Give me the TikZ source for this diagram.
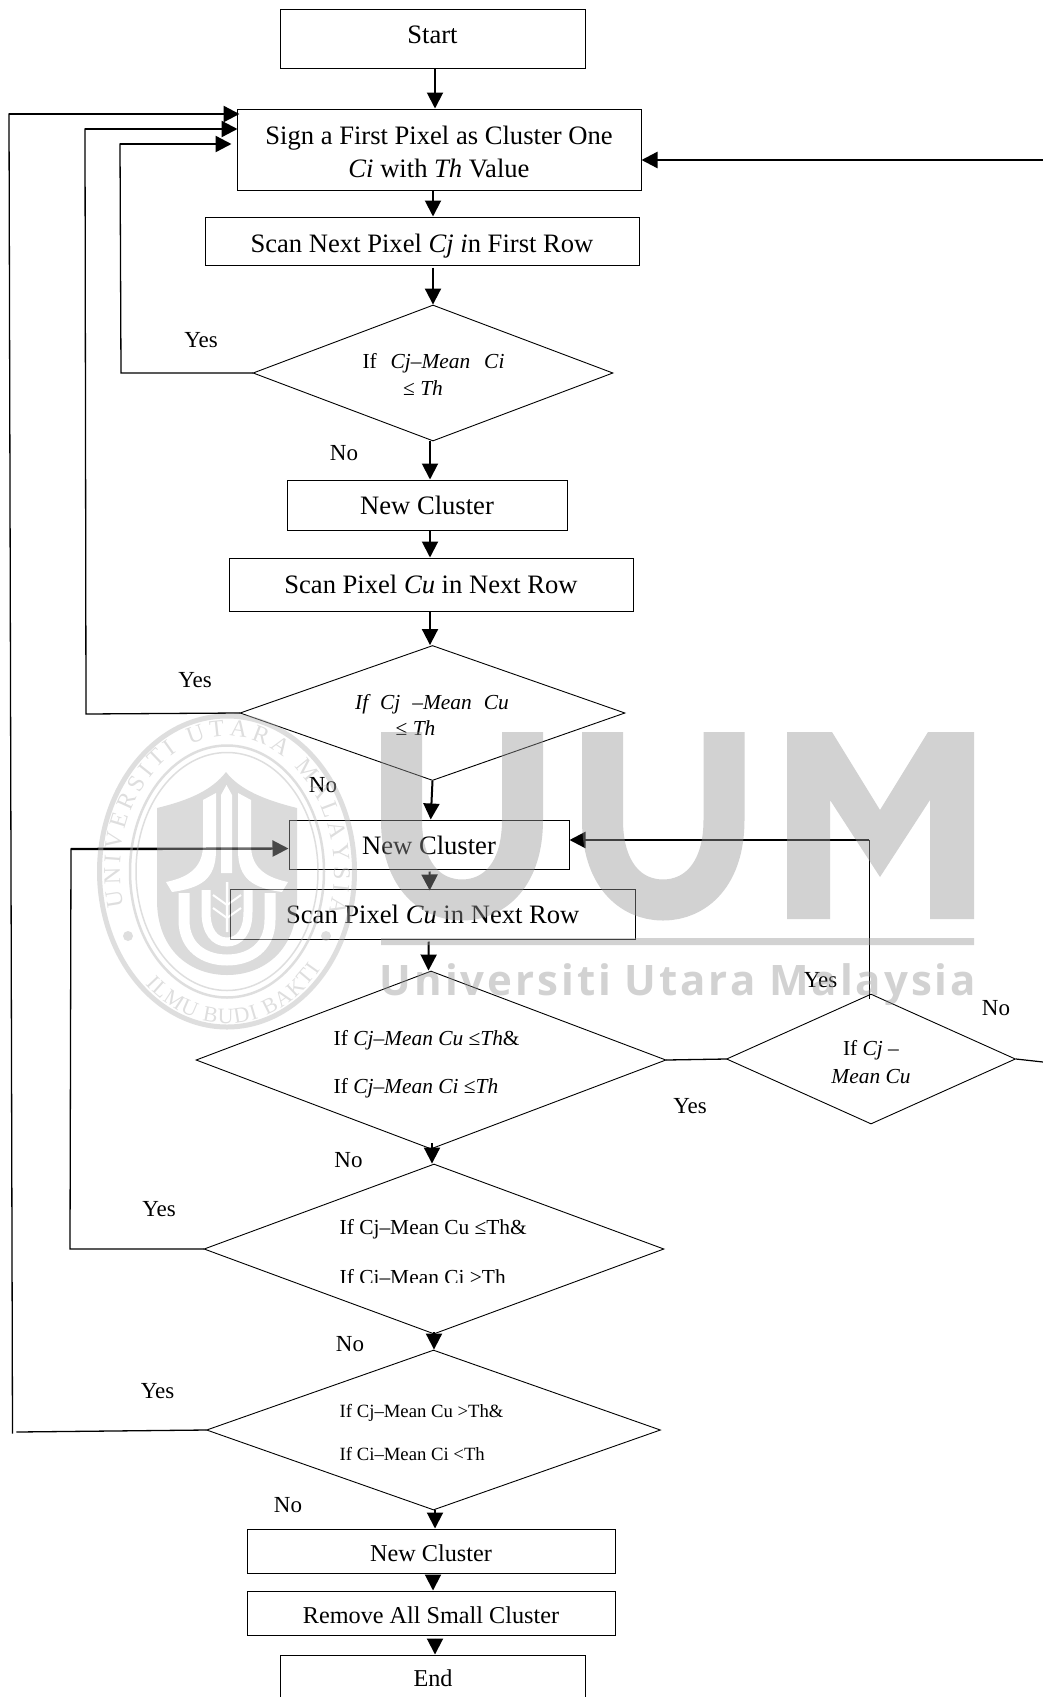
\documentclass[tikz,border=0pt]{standalone}
\usepackage{fontspec}
\setmainfont{Liberation Serif}
\newfontfamily\wmfont[LetterSpace=7]{Open Sans}
\usetikzlibrary{arrows.meta,shapes.geometric,decorations.text}
\definecolor{wmc}{gray}{0.588}
\definecolor{sealc}{gray}{0.7}
\newcommand{\fs}[1]{\fontsize{#1pt}{#1pt}\selectfont}
\tikzset{
  x=1pt,y=-1pt,
  box/.style={draw=black,line width=1pt,inner sep=0pt,align=center},
  big/.style={font=\fs{26.6}},
  mid/.style={font=\fs{24.2}},
  dia/.style={draw=black,shape=diamond,aspect=1,inner sep=0pt,line width=.9pt},
  dtxt/.style={font=\fs{21.4},inner sep=0pt},
  lab/.style={font=\fs{23},inner sep=0pt},
  arr/.style={line width=2pt,draw=black,-{Triangle[length=16pt,width=16pt]}},
  feed/.style={line width=2.4pt,draw=black,-{Triangle[length=16pt,width=16pt]}},
  wire/.style={line width=1.3pt,draw=black,line cap=rect},
}
\begin{document}
\begin{tikzpicture}
\useasboundingbox (0,0) rectangle (1043,1697);
% boxes
\node[box,big,minimum width=305pt,minimum height=59pt] (start) at (432.5,38.5) {\raisebox{8.4pt}{Start}};
\node[box,big,minimum width=404pt,minimum height=81pt,execute at begin node={\baselineskip=33.5pt}] (sign) at (439,149.5) {\rule{0pt}{23.5pt}Sign a First Pixel as Cluster One\\\textit{Ci} with \textit{Th} Value};
\node[box,big,minimum width=434pt,minimum height=48pt] (scana) at (422,241) {\rule{0pt}{29pt}Scan Next Pixel \textit{Cj i}n First Row};
\node[box,big,minimum width=280pt,minimum height=50pt] (nca) at (427,505) {\rule{0pt}{20pt}New Cluster};
\node[box,big,minimum width=404pt,minimum height=53pt] (scanb) at (431,584.5) {Scan Pixel \textit{Cu} in Next Row};
\node[box,big,minimum width=280pt,minimum height=49pt] (ncb) at (429,844.5) {\rule{0pt}{20pt}New Cluster};
\node[box,big,minimum width=404.5pt,minimum height=50pt] (scanc) at (432.75,914) {Scan Pixel \textit{Cu} in Next Row};
\node[box,mid,minimum width=368pt,minimum height=44pt] (ncc) at (431,1551) {\rule{0pt}{20.4pt}New Cluster};
\node[box,mid,minimum width=368pt,minimum height=44pt] (rem) at (431,1613) {\rule{0pt}{20.4pt}Remove All Small Cluster};
\node[box,mid,minimum width=305pt,minimum height=46pt] (end) at (433,1678) {\rule{0pt}{18pt}End};
% diamonds
\node[dia,minimum width=360pt,minimum height=136pt] (da) at (433,373) {};
\node[dia,minimum width=385pt,minimum height=135pt] (db) at (432.5,713) {};
\node[dia,minimum width=470pt,minimum height=178pt] (dc) at (431,1060) {};
\node[dia,minimum width=289pt,minimum height=130pt] (dd) at (871,1059) {};
\node[dia,minimum width=460pt,minimum height=170pt] (de) at (434,1249) {};
\node[dia,minimum width=454pt,minimum height=160pt] (df) at (433.5,1430) {};
% diamond texts
\node[dtxt] (ta1) at (433.5,363) {If\hspace{.65em}\textit{Cj}–\textit{Mean}\hspace{.65em}\textit{Ci}};
\node[dtxt] (ta2) at (423,388.5) {≤ \textit{Th}};
\node[dtxt] (tb1) at (432,704) {\textit{If\hspace{.56em}Cj\hspace{.56em}–Mean\hspace{.56em}Cu}};
\node[dtxt] (tb2) at (415.5,728) {≤ \textit{Th}};
\node[dtxt,anchor=base west] (tc1) at (333.5,1045) {If \textit{Cj}–\textit{Mean Cu} ≤\textit{Th}\&};
\node[dtxt,anchor=base west] (tc2) at (333.5,1093) {If \textit{Cj}–\textit{Mean Ci} ≤\textit{Th}};
\node[dtxt,anchor=center] (td1) at (871,1050) {If \textit{Cj} –};
\node[dtxt,anchor=center] (td2) at (871,1077) {\textit{Mean Cu}};
\node[dtxt,anchor=base west,font=\fs{21.4}] (te1) at (339.5,1234.5) {If Cj–Mean Cu ≤Th\&};
\begin{scope}
\clip (300,1262) rectangle (560,1282);
\node[dtxt,anchor=base west,font=\fs{21.4}] (te2) at (339.5,1284) {If Ci–Mean Ci >Th};
\end{scope}
\node[dtxt,anchor=base west,font=\fs{18.7}] (tf1) at (339.5,1417) {If Cj–Mean Cu >Th\&};
\node[dtxt,anchor=base west,font=\fs{18.7}] (tf2) at (339.5,1460.5) {If Ci–Mean Ci <Th};
% labels
\node[lab] (y1) at (201,340) {Yes};
\node[lab] (n1) at (344,453) {No};
\node[lab] (y2) at (195,680) {Yes};
\node[lab] (n2) at (323,785.5) {No};
\node[lab] (y3) at (820.5,980) {Yes};
\node[lab] (n3) at (996,1008) {No};
\node[lab] (y4) at (690,1106) {Yes};
\node[lab] (n4) at (348.5,1160) {No};
\node[lab] (y5) at (159,1209) {Yes};
\node[lab] (n5) at (350,1344) {No};
\node[lab] (y6) at (157.5,1391.5) {Yes};
\node[lab] (n6) at (288,1505) {No};
% vertical flow
\draw[arr] ([xshift=2.5pt]start.south) -- ([xshift=-4pt]sign.north);
\draw[arr] ([xshift=-6pt]sign.south) -- ([xshift=11pt]scana.north);
\draw[arr] ([xshift=11pt,yshift=-2pt]scana.south) -- (da.north);
\draw[arr] ([xshift=-3pt]da.south) -- ([xshift=3pt]nca.north);
\draw[arr] ([xshift=3pt]nca.south) -- ([xshift=-1pt]scanb.north);
\draw[arr] ([xshift=-1pt]scanb.south) -- ([xshift=-2.5pt]db.north);
\draw[arr] (db.south) -- ([xshift=1.7pt]ncb.north);
\draw[arr] ([xshift=.5pt,yshift=-2pt]ncb.south) -- ([xshift=-3pt,yshift=-2pt]scanc.north);
\draw[arr] ([xshift=-4pt,yshift=-2pt]scanc.south) -- ([xshift=-2.5pt]dc.north);
\draw[arr] ([xshift=1pt,yshift=6pt]dc.south) -- ([xshift=-2pt]de.north);
\draw[arr] ([yshift=2pt]de.south) -- ([xshift=.5pt]df.north);
\draw[arr] ([xshift=1.5pt]df.south) -- ([xshift=4pt]ncc.north);
\draw[arr] ([xshift=2pt,yshift=-2pt]ncc.south) -- ([xshift=2pt]rem.north);
\draw[arr] ([xshift=4pt,yshift=-3pt]rem.south) -- ([xshift=2pt]end.north);
% feedback
\coordinate (fa1) at (121,373);
\coordinate (fa2) at (120,144);
\draw[wire] (da.west) -- (fa1) -- (fa2);
\draw[feed] (fa2) -- ([xshift=-5pt,yshift=5.5pt]sign.west);
\coordinate (fb1) at (86,714);
\coordinate (fb2) at (85,129);
\draw[wire] (db.west) -- (fb1) -- (fb2);
\draw[feed] (fb2) -- ([xshift=1pt,yshift=20.5pt]sign.west);
\coordinate (fc1) at (17,1432);
\coordinate (fc2) at (12.5,1433);
\coordinate (fc3) at (9,114);
\draw[wire] (df.west) -- (fc1);
\draw[wire] (fc2) -- (fc3);
\draw[feed] (fc3) -- ([xshift=3pt,yshift=35.5pt]sign.west);
\coordinate (fe1) at (70,1249);
\coordinate (fe2) at (71,849);
\draw[wire] (de.west) -- (fe1) -- (fe2);
\draw[feed] (fe2) -- ([yshift=-4pt]ncb.west);
\coordinate (ftop) at (1043,160);
\draw[feed] (ftop) -- ([yshift=-10.5pt]sign.east);
\draw[wire] (dc.east) -- (dd.west);
\coordinate (fd1) at (869,840);
\draw[line width=1pt,draw=black] ([xshift=-2pt,yshift=-5pt]dd.north) -- (fd1);
\draw[feed] (fd1) -- ([yshift=4.5pt]ncb.east);
\coordinate (fno) at (1043,1062);
\draw[line width=1.2pt,draw=black] (dd.east) -- (fno);
% watermark
\begin{scope}[transparency group,opacity=.43]
  \draw[wmc,line width=41pt] (401.5,732) -- (401.5,820) .. controls (401.5,875) and (430,900) .. (462,900) .. controls (494,900) and (522.5,875) .. (522.5,820) -- (522.5,732);
  \draw[wmc,line width=41pt] (602.5,732) -- (602.5,820) .. controls (602.5,875) and (631,900) .. (663,900) .. controls (695,900) and (724,875) .. (724,820) -- (724,732);
  \fill[wmc] (787,919) -- (787,732) -- (832,732) -- (880,810) -- (928,732) -- (974,732) -- (974,919) -- (930,919) -- (930,800) -- (880,877) -- (830,800) -- (830,919) -- cycle;
  \fill[wmc] (381,938) rectangle (974,945);
  \node[wmc,inner sep=0pt] (wmtext) at (678,985) {\fs{42}\wmfont\bfseries Universiti Utara Malaysia};
  % seal
  \draw[sealc,line width=5pt] (227,871.5) ellipse [x radius=127.5pt,y radius=155.5pt];
  \draw[sealc,line width=2.5pt] (227,871.5) ellipse [x radius=97pt,y radius=126pt];
  \draw[sealc,line width=1.5pt] (227,871.5) ellipse [x radius=91pt,y radius=119pt];
  \path[decorate,decoration={text along path,text={|\color{sealc}\fs{24}|UNIVERSITI UTARA MALAYSIA},text align=fit to path}]
    (123.6,906.2) arc[start angle=195,end angle=-18,x radius=107pt,y radius=135pt];
  \path[decorate,decoration={text along path,text={|\color{sealc}\fs{22}|ILMU BUDI BAKTI},text align=fit to path}]
    (145.4,984.4) arc[start angle=228,end angle=320,x radius=122pt,y radius=152pt];
  \fill[sealc] (128,936) circle[radius=5pt];
  \fill[sealc] (326,936) circle[radius=5pt];
  \fill[wmc!80!white] (226,772) .. controls (212,790) and (190,800) .. (157,808) -- (157,900) .. controls (157,950) and (190,975) .. (227,975) .. controls (264,975) and (297,950) .. (297,900) -- (297,808) .. controls (265,800) and (240,790) .. (226,772) -- cycle;
  \fill[white] (221,795) -- (226.5,785) -- (232,795) -- (232,873) -- (221,873) -- cycle;
  \fill[white] (203,800) -- (216,793) -- (216,850) .. controls (216,880) and (200,888) .. (172,892) -- (166,882) .. controls (185,878) and (203,870) .. (203,845) -- cycle;
  \fill[white] (251,800) -- (238,793) -- (238,850) .. controls (238,880) and (254,888) .. (282,892) -- (288,882) .. controls (269,878) and (251,870) .. (251,845) -- cycle;
  \draw[white,line width=11pt] (184,893) -- (184,920) .. controls (184,948) and (205,960) .. (227,960) .. controls (249,960) and (270,948) .. (270,920) -- (270,893);
  \draw[white,line width=9pt] (206,890) -- (206,912) .. controls (206,932) and (215,942) .. (227,942) .. controls (239,942) and (248,932) .. (248,912) -- (248,890);
  \draw[white,line width=2.5pt] (227,882) -- (227,932);
  \draw[white,line width=2pt] (213,895) -- (227,905) -- (241,895) (213,908) -- (227,918) -- (241,908);
\end{scope}
\end{tikzpicture}
\end{document}
